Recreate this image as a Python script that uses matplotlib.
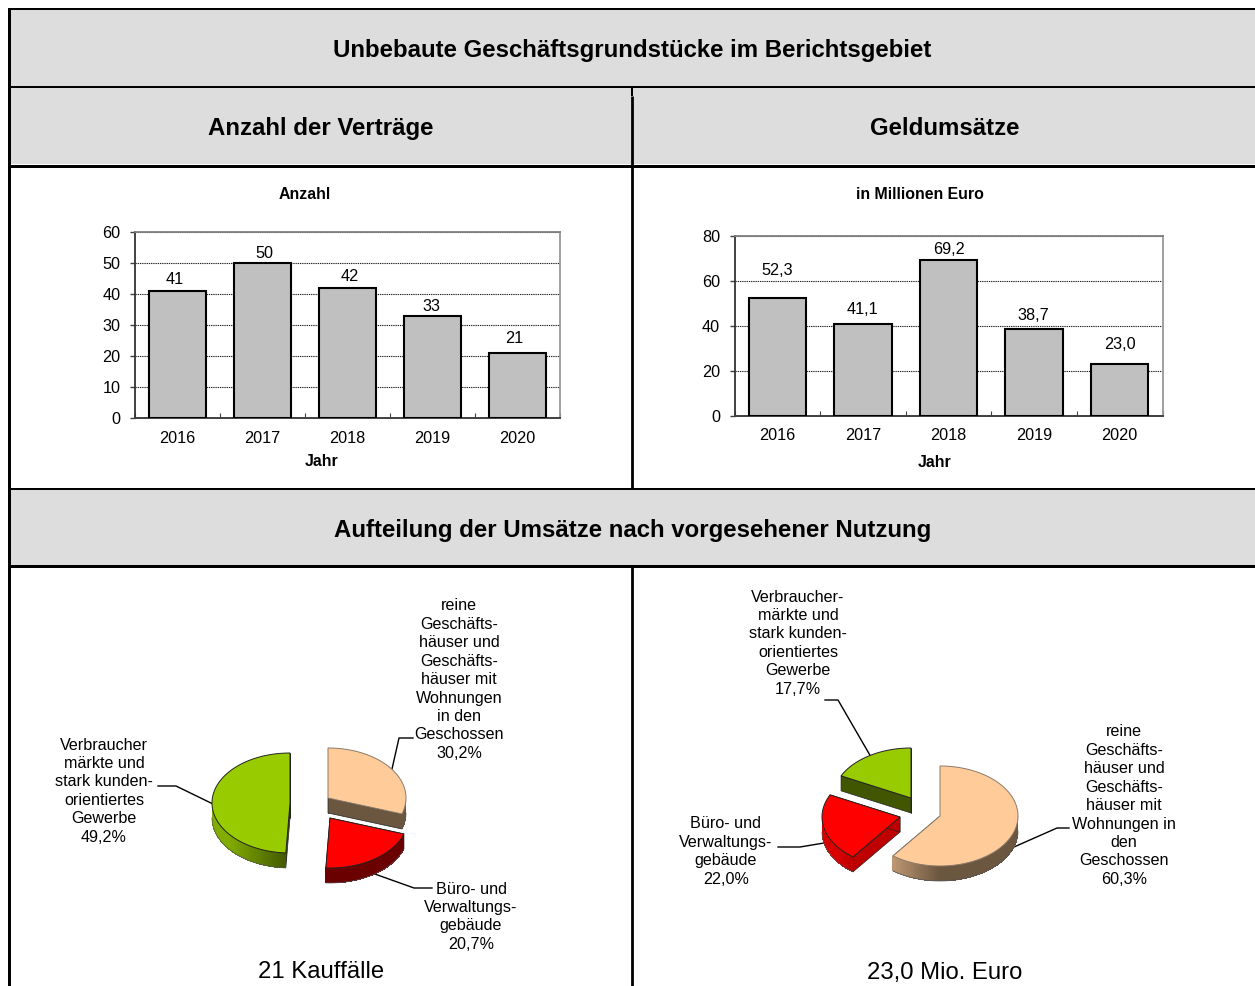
import numpy as np
import matplotlib
matplotlib.use('Agg')
import matplotlib.pyplot as plt

plt.rcParams['font.family'] = ['Liberation Sans', 'DejaVu Sans']

W, H = 1255, 986

# Data
jahre = ['2016', '2017', '2018', '2019', '2020']
anzahl = [41, 50, 42, 33, 21]
umsatz = [52.3, 41.1, 69.2, 38.7, 23.0]

nutzung_links = [30.2, 20.7, 49.2]
nutzung_rechts = [60.3, 22.0, 17.7]

PEACH = (1.0, 0.8, 0.6)
RED = (1.0, 0.0, 0.0)
GREEN = (0.6, 0.8, 0.0)

fig = plt.figure(figsize=(W / 100, H / 100), dpi=100)
bg = fig.add_axes([0, 0, 1, 1])
bg.set_xlim(0, W)
bg.set_ylim(H, 0)
bg.axis('off')

# Header bands and table lines (lw in points, 1 px = 0.72 pt)
for y0, y1 in [(10, 86), (88, 164), (490, 565)]:
    bg.fill_between([9, W], y0, y1, color='#dddddd', lw=0)
bg.plot([8.5, 8.5], [8, H], color='black', lw=2.16, solid_capstyle='butt')
for y, lw in [(9, 1.44), (87, 1.44), (165.5, 2.16), (489, 1.44), (566, 2.16)]:
    bg.plot([8, W], [y, y], color='black', lw=lw, solid_capstyle='butt')
bg.plot([631.5, 631.5], [87, 96], color='black', lw=1.44, solid_capstyle='butt')
for y0, y1 in [(96, 489), (566, H)]:
    bg.plot([631.8, 631.8], [y0, y1], color='black', lw=2.0, solid_capstyle='butt')


def head(x, y, s, size=17.3):
    bg.text(x, y, s, ha='center', va='center', fontsize=size, fontweight='bold')


head(632.5, 50.5, 'Unbebaute Geschäftsgrundstücke im Berichtsgebiet')
head(321, 128.5, 'Anzahl der Verträge')
head(945, 128.6, 'Geldumsätze')
head(632.5, 530.5, 'Aufteilung der Umsätze nach vorgesehener Nutzung')
head(305, 194.5, 'Anzahl', 11.4)
head(919.5, 194.5, 'in Millionen Euro', 11.4)
head(322, 461.5, 'Jahr', 11.4)
head(935, 462.5, 'Jahr', 11.4)


def bars(box, values, labels, ymax, step, offsets, xpad):
    x0, x1, ytop, ybot = box
    ax = fig.add_axes([x0 / W, 1 - ybot / H, (x1 - x0) / W, (ybot - ytop) / H])
    ax.patch.set_alpha(0)
    pos = np.arange(len(values))
    ax.bar(pos, values, width=0.67, color='#c0c0c0', edgecolor='black', lw=1.5, zorder=3)
    ax.set_xlim(-0.5, len(values) - 0.5)
    ax.set_ylim(0, ymax)
    ax.set_yticks(np.arange(0, ymax + 1, step))
    ax.yaxis.grid(True, color='#222222', ls=(0, (1.2, 0.8)), lw=0.8, zorder=0)
    ax.set_xticks(np.arange(len(values) + 1) - 0.5)
    ax.set_xticks(pos, minor=True)
    ax.set_xticklabels([])
    ax.set_xticklabels(jahre, minor=True)
    ax.tick_params(axis='x', which='minor', length=0, labelsize=11.7, pad=xpad)
    ax.tick_params(axis='x', which='major', direction='in', length=3.5, width=0.8, color='#404040')
    ax.tick_params(axis='y', length=3.5, width=1.0, color='#404040', labelsize=11.7, pad=7)
    ax.spines['left'].set_linewidth(1.3)
    ax.spines['left'].set_color('#333333')
    ax.spines['bottom'].set_linewidth(1.4)
    ax.spines['bottom'].set_color('#404040')
    ax.spines['top'].set_color('#808080')
    ax.spines['right'].set_color('#999999')
    ax.spines['top'].set_linewidth(1.3)
    ax.spines['right'].set_linewidth(1.3)
    for p, v, s, (dx, dy) in zip(pos, values, labels, offsets):
        ax.annotate(s, (p, v), xytext=(dx * 0.72, dy * 0.72), textcoords='offset points',
                    ha='center', va='center', fontsize=11.7, zorder=5)


bars((135, 560, 232, 418), anzahl, [str(v) for v in anzahl], 60, 10,
     [(-3, 11), (2, 9), (2, 11), (-1, 9), (-3, 14)], 9.5)
bars((734.5, 1162.5, 236, 416), umsatz, [f'{v:.1f}'.replace('.', ',') for v in umsatz], 80, 20,
     [(0, 28), (0, 14), (0, 11), (-1, 13), (0, 20)], 9)

# Exploded pies, drawn on the pixel layer
RX, RY, DEPTH = 78, 50, 15


def pt(c, a, dy=0):
    r = np.radians(a)
    return c[0] + RX * np.sin(r), c[1] - RY * np.cos(r) + dy


def rim_shade(a):
    return 0.42 + 0.43 * np.clip(-np.sin(np.radians(a)) / 0.8, 0, 1)


def slice3d(c, a0, a1, color):
    fshade = 0.75 if color == RED else 0.42
    fcol = tuple(v * fshade for v in color)
    for a in (a0, a1):
        p = pt(c, a)
        bg.fill([c[0], p[0], p[0], c[0]], [c[1], p[1], p[1] + DEPTH, c[1] + DEPTH],
                facecolor=fcol, edgecolor='#222222', lw=0.5, zorder=4)
    steps = np.arange(max(a0, 90), min(a1, 270), 1.5)
    for a in steps:
        b = min(a + 2.5, min(a1, 270))
        xa, ya = pt(c, a)
        xb, yb = pt(c, b)
        col = tuple(v * rim_shade(a) for v in color)
        bg.fill([xa, xb, xb, xa], [ya, yb, yb + DEPTH, ya + DEPTH],
                facecolor=col, edgecolor='none', zorder=5, antialiased=False)
    if len(steps):
        arc = np.linspace(max(a0, 90), min(a1, 270), 80)
        xs, ys = pt(c, arc, DEPTH)
        bg.plot(xs, ys, color='#555555', lw=0.5, zorder=6)
    arc = np.linspace(a0, a1, 150)
    xs, ys = pt(c, arc)
    edge = '#8a7a6a' if color == PEACH else '#222222'
    bg.fill(np.r_[c[0], xs], np.r_[c[1], ys], facecolor=color, edgecolor=edge, lw=0.7, zorder=7)


def pie3d(values, centers, colors):
    edges = np.r_[0, np.cumsum(values)] / sum(values) * 360
    for i, (c, col) in enumerate(zip(centers, colors)):
        slice3d(c, edges[i], edges[i + 1], col)


pie3d(nutzung_links, [(328, 798), (330, 818), (290, 803)], [PEACH, RED, GREEN])
pie3d(nutzung_rechts, [(940, 816), (900, 817), (911, 798)], [PEACH, RED, GREEN])

# Leader lines
leaders = [
    ([158, 176, 213], [786, 786, 804]),
    ([413, 399, 392], [738, 738, 769]),
    ([432, 414, 372], [888, 888, 873]),
    ([825, 838, 871], [700, 700, 757]),
    ([778, 800, 824], [847, 847, 843]),
    ([1069, 1057, 1014], [828, 828, 847]),
]
for xs, ys in leaders:
    bg.plot(xs, ys, color='black', lw=1.0, zorder=3)


def label(x, y, s):
    bg.text(x, y, s, ha='center', va='top', fontsize=11.6, linespacing=1.285)


label(104, 737.5, 'Verbraucher\nmärkte und\nstark kunden-\norientiertes\nGewerbe\n49,2%')
label(459, 598.5, 'reine\nGeschäfts-\nhäuser und\nGeschäfts-\nhäuser mit\nWohnungen\nin den\nGeschossen\n30,2%')
label(471, 881.5, 'Büro- und\nVerwaltungs-\ngebäude\n20,7%')
label(798, 589.5, 'Verbraucher-\nmärkte und\nstark kunden-\norientiertes\nGewerbe\n17,7%')
label(726, 816.5, 'Büro- und\nVerwaltungs-\ngebäude\n22,0%')
label(1124, 724.5, 'reine\nGeschäfts-\nhäuser und\nGeschäfts-\nhäuser mit\nWohnungen in\nden\nGeschossen\n60,3%')

bg.text(321, 972.5, '21 Kauffälle', ha='center', va='center', fontsize=17.2)
bg.text(945, 972.5, '23,0 Mio. Euro', ha='center', va='center', fontsize=17.2)

fig.savefig('out.png', dpi=100)
